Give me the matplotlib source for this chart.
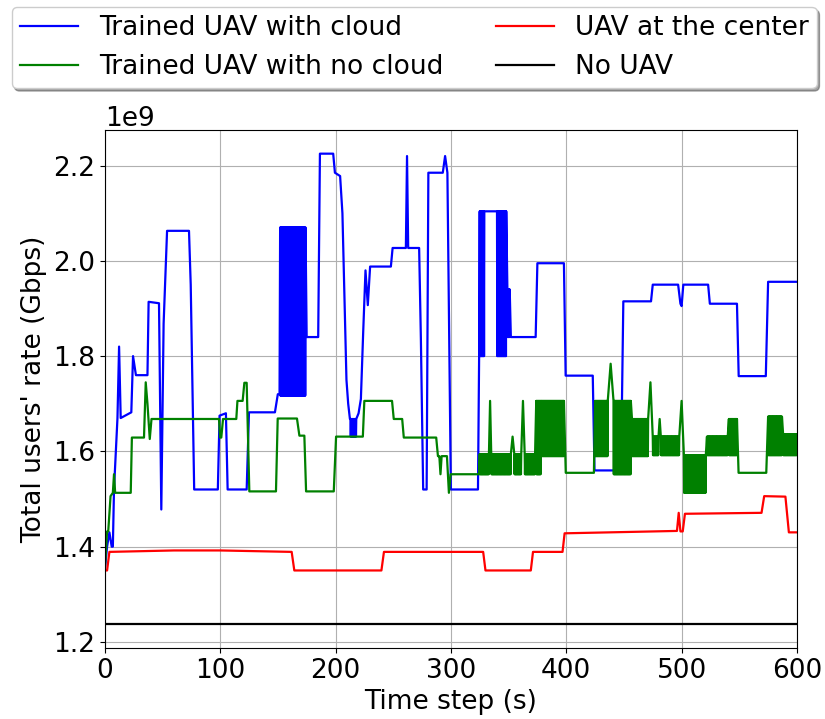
import numpy as np
import matplotlib
matplotlib.use("Agg")
import matplotlib.pyplot as plt

# knots (time, rate in Gbps); bands = fast flicker (t0, t1, low, high)
blue_t = [0, 2, 4, 6, 7, 8, 11, 12.4, 13.8, 23, 24.5, 27, 37, 38, 47, 49, 51, 54, 73, 74.5,
          77.5, 98, 99.5, 105, 106.5, 123, 125, 147.5, 150, 151.5,
          175, 185, 186.5, 198, 199.5, 204, 206, 208, 209.5, 211, 212.5,
          220, 222, 224, 226, 228, 230, 248, 249.5, 261, 262, 263, 272.5, 274, 276, 279,
          280.5, 293, 295, 297, 300, 323.5, 324.5,
          330, 339,
          352, 373.5, 375, 398, 399.5, 423, 424.5, 447.5, 449.5, 473.5, 475, 497, 499, 500,
          501.5, 523, 524.5, 548, 549.5, 573, 575, 600]
blue_v = [1.35, 1.40, 1.43, 1.40, 1.40, 1.52, 1.67, 1.82, 1.67, 1.682, 1.80, 1.76, 1.76, 1.914,
          1.911, 1.478, 1.868, 2.063, 2.063, 1.95,
          1.52, 1.52, 1.675, 1.68, 1.52, 1.52, 1.682, 1.682, 1.72, 1.72,
          1.84, 1.84, 2.225, 2.225, 2.185, 2.178, 2.10, 1.90, 1.75, 1.70, 1.668,
          1.68, 1.71, 1.85, 1.98, 1.907, 1.988, 1.988, 2.027, 2.027, 2.22, 2.027, 2.027, 1.837,
          1.52, 1.52,
          2.185, 2.185, 2.22, 2.185, 1.52, 1.52, 1.80,
          2.104, 2.104,
          1.84, 1.84, 1.995, 1.995, 1.759, 1.759, 1.56, 1.56, 1.915, 1.915, 1.95, 1.95, 1.91,
          1.905, 1.95, 1.95, 1.91, 1.91, 1.758, 1.758, 1.956, 1.956]
blue_bands = [(152, 174, 1.717, 2.07), (213, 218, 1.631, 1.668), (325, 329, 1.80, 2.104),
              (340, 348, 1.80, 2.104), (349, 351, 1.84, 1.94)]

green_t = [0, 2, 3, 5, 7, 8, 9, 22.5, 23.5, 34, 35.5, 37, 39, 40.5, 99, 100, 101, 102.5, 114,
           115, 119.5, 121, 123, 125.3, 148.4, 149.9, 166.6, 168.7, 173, 174.5, 198.5, 200.5,
           223.7, 225, 249, 250.5, 257.8, 259.2, 287.3, 288.8, 290, 291, 292, 296.6, 298.3,
           299.8, 324.5, 334, 353.5, 362.5, 399.6, 424, 438.5, 473, 481, 500, 549.4, 573.4]
green_v = [1.35, 1.432, 1.432, 1.506, 1.513, 1.552, 1.513, 1.513, 1.629, 1.629, 1.745, 1.70,
           1.626, 1.668, 1.668, 1.629, 1.629, 1.668, 1.668,
           1.706, 1.706, 1.744, 1.744, 1.516, 1.516, 1.669, 1.669, 1.633, 1.633, 1.516, 1.516,
           1.631, 1.631, 1.706, 1.706, 1.668, 1.668, 1.629, 1.629, 1.59, 1.59, 1.552, 1.59,
           1.59, 1.513, 1.552, 1.552, 1.706, 1.631, 1.706, 1.555, 1.555, 1.784, 1.745, 1.668,
           1.706, 1.555, 1.555]
green_bands = [(325, 333, 1.552, 1.594), (335, 352, 1.552, 1.594), (355, 361, 1.552, 1.594),
               (364, 373, 1.552, 1.594), (374, 378, 1.552, 1.706), (379, 398, 1.59, 1.706),
               (425, 436, 1.59, 1.706), (441, 456, 1.552, 1.706), (457, 471, 1.59, 1.668),
               (475, 480, 1.592, 1.631), (482, 498, 1.592, 1.631), (502, 521, 1.513, 1.592),
               (522, 540, 1.592, 1.631), (541, 548, 1.592, 1.668), (575, 587, 1.592, 1.673),
               (588, 600, 1.592, 1.636)]

red_t = [0, 2, 4, 60, 100, 162, 164.3, 239.8, 242, 328, 330, 369.3, 371.2, 396.8, 398.6, 496,
         497.5, 499, 501, 502.9, 569.3, 571.6, 590, 593, 600]
red_v = [1.35, 1.35, 1.389, 1.392, 1.392, 1.389, 1.35, 1.35, 1.389, 1.389, 1.35, 1.35, 1.389,
         1.389, 1.428, 1.433, 1.471, 1.432, 1.432, 1.469, 1.471, 1.506, 1.505, 1.43, 1.43]

black_t = [0, 600]
black_v = [1.237, 1.237]


def build(ts, vs, bands):
    pts = list(zip(ts, vs))
    for t0, t1, lo, hi in bands:
        # flicker sampled 4 times per second so it reads as a solid block
        for i, t in enumerate(np.arange(t0, t1 + 0.01, 0.25)):
            pts.append((t, hi if i % 2 == 0 else lo))
    pts.sort(key=lambda p: p[0])
    t = np.array([p[0] for p in pts])
    v = np.array([p[1] for p in pts]) * 1e9
    return t, v


plt.rcParams['font.size'] = 19

fig = plt.figure(figsize=(8.25, 7.19), dpi=100)
ax = fig.add_axes([0.127, 0.099, 0.839, 0.72])

lw = 1.6
t, v = build(blue_t, blue_v, blue_bands)
ax.plot(t, v, color='blue', lw=lw, label='Trained UAV with cloud')
t, v = build(green_t, green_v, green_bands)
ax.plot(t, v, color='green', lw=lw, label='Trained UAV with no cloud')
t, v = build(red_t, red_v, [])
ax.plot(t, v, color='red', lw=lw, label='UAV at the center')
t, v = build(black_t, black_v, [])
ax.plot(t, v, color='black', lw=lw, label='No UAV')

ax.set_xlim(0, 600)
ax.grid(True)
ax.set_xlabel('Time step (s)')
ax.set_ylabel("Total users' rate (Gbps)")

fig.legend(loc='upper center', bbox_to_anchor=(0.502, 0.99), ncol=2, shadow=True,
           handlelength=2.2, columnspacing=2.0, borderpad=0.3, labelspacing=0.5,
           borderaxespad=0)

fig.savefig('out.png')
